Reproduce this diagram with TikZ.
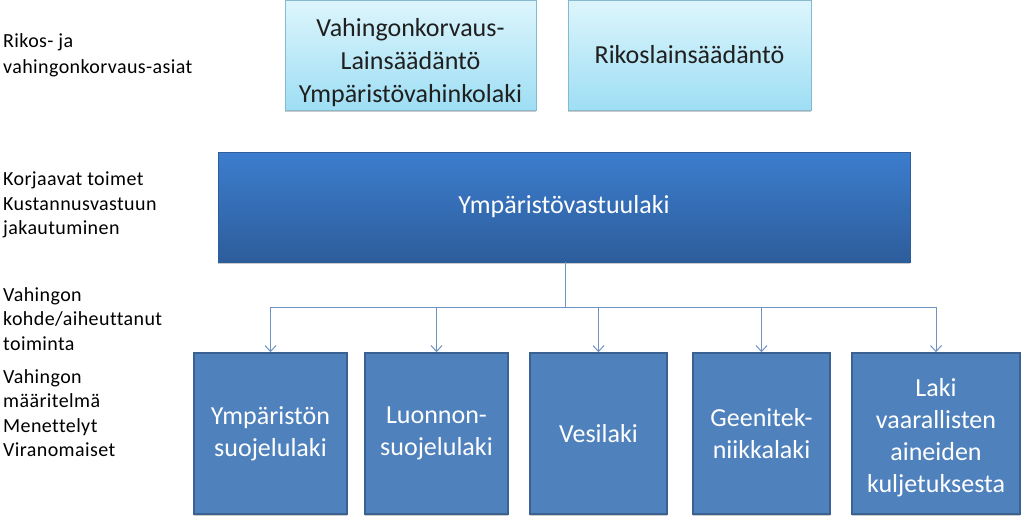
\documentclass[tikz,border=0pt]{standalone}
\usepackage{fontspec}
\setmainfont{Carlito}
\newfontfamily\sidefont[LetterSpace=2,Ligatures=NoCommon]{Carlito}
\usetikzlibrary{arrows.meta,shadows}

\definecolor{paletop}{HTML}{DDF5FC}
\definecolor{palebot}{HTML}{9EDEF4}
\definecolor{paleedge}{HTML}{86B9CC}
\definecolor{acttop}{HTML}{3C7DCE}
\definecolor{actbot}{HTML}{2D5D9B}
\definecolor{lawfill}{HTML}{4F81BD}
\definecolor{lawedge}{HTML}{3A6192}
\definecolor{linkcol}{HTML}{6E93C2}

\begin{document}
\begin{tikzpicture}[x=1pt,y=-1pt,
  shade/.style={drop shadow={shadow xshift=0pt,shadow yshift=-2pt,opacity=0.35,fill=black!60}},
  palebox/.style={shade,draw=paleedge,top color=paletop,bottom color=palebot,
    text=black!88,align=center,inner sep=0,minimum height=110,
    font=\fontsize{26}{33}\selectfont},
  lawbox/.style={shade,draw=lawedge,line width=1.5,fill=lawfill,text=white,
    align=center,inner sep=0,minimum height=161,font=\fontsize{26}{32}\selectfont},
  side/.style={anchor=north west,align=left,inner sep=0,
    font=\sidefont\fontsize{20}{24.5}\selectfont},
  link/.style={draw=linkcol,line width=1},
  tip/.style={-{Straight Barb[length=6,width=11]}}]

\useasboundingbox (0,0) rectangle (1024,516);

% left column
\node[side] (rikos) at (3,33) {Rikos- ja\\[2pt]vahingonkorvaus-asiat};
\node[side] (korj) at (3,172) {Korjaavat toimet\\Kustannusvastuun\\jakautuminen};
\node[side] (kohde) at (3,287) {Vahingon\\kohde/aiheuttanut\\toiminta};
\node[side] (maar) at (3,369) {Vahingon\\määritelmä\\Menettelyt\\Viranomaiset};

% top row
\node[palebox,minimum width=251] (vahlaki) at (410.5,55)
  {\rule{0pt}{34pt}Vahingonkorvaus-\\Lainsäädäntö\\Ympäristövahinkolaki};
\node[palebox,minimum width=243] (rikoslaki) at (689.5,55) {Rikoslainsäädäntö};

% middle
\node[shade,draw=actbot,top color=acttop,bottom color=actbot,text=white,
  minimum width=692,minimum height=110,inner sep=0,
  font=\fontsize{26}{32}\selectfont] (vastuu) at (564,207) {Ympäristövastuulaki};

% bottom row
\node[lawbox,minimum width=153] (ysl) at (270.5,433.5) {Ympäristön\\suojelulaki};
\node[lawbox,minimum width=143] (lsl) at (436.5,433.5) {Luonnon-\\suojelulaki};
\node[lawbox,minimum width=137] (vesi) at (598.5,433.5) {Vesilaki};
\node[lawbox,minimum width=137] (geeni) at (761.5,433.5) {Geenitek-\\niikkalaki};
\node[lawbox,minimum width=168] (vak) at (936,433.5)
  {\rule{0pt}{26pt}Laki\\vaarallisten\\aineiden\\kuljetuksesta};

\coordinate (split) at (565,307);
\draw[link] (vastuu.south -| split) -- (split);
\foreach \b in {ysl,lsl,vesi,geeni,vak}
  \draw[link,tip] (split) -| (\b.north);

\end{tikzpicture}
\end{document}
